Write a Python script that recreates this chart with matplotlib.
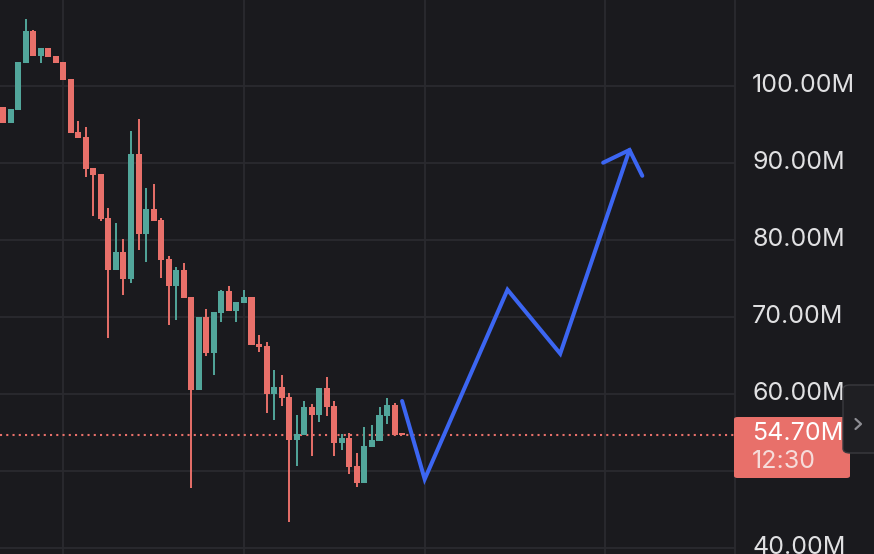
import numpy as np
import matplotlib
matplotlib.use("Agg")
import matplotlib.pyplot as plt
from matplotlib.patches import FancyBboxPatch

# candle data, values in millions
opens = [97.2, 95.2, 96.8, 103.0, 107.1, 103.9, 104.9, 103.9, 103.1, 100.9,
         94.0, 93.3, 89.3, 88.5, 82.8, 76.1, 78.4, 74.9, 91.1, 80.7,
         84.0, 82.6, 77.5, 74.0, 76.1, 72.6, 60.5, 70.0, 65.3, 70.5,
         73.3, 70.7, 71.8, 72.6, 66.5, 66.2, 60.0, 60.9, 59.6, 54.0,
         54.6, 58.3, 57.2, 60.7, 58.4, 53.6, 54.3, 50.6, 48.4, 53.1,
         53.9, 57.1, 58.5, 54.8]
highs = [97.2, 97.0, 103.1, 108.7, 107.2, 104.9, 104.9, 103.9, 103.1, 100.9,
         95.4, 94.6, 89.3, 88.5, 84.1, 82.2, 80.1, 94.1, 95.7, 86.7,
         87.2, 82.8, 77.9, 76.5, 77.0, 72.6, 70.0, 71.0, 70.6, 73.5,
         74.0, 71.9, 73.5, 72.6, 67.6, 66.7, 63.1, 62.4, 60.1, 57.2,
         59.0, 58.7, 60.7, 62.2, 59.0, 54.8, 54.9, 52.3, 55.7, 55.9,
         58.3, 59.4, 58.8, 54.8]
lows = [95.2, 95.2, 96.8, 103.0, 103.9, 103.0, 103.7, 103.0, 100.7, 93.9,
        93.2, 88.1, 83.1, 82.4, 67.2, 76.1, 72.8, 74.4, 78.7, 77.1,
        82.4, 75.0, 68.9, 69.6, 72.4, 47.8, 60.5, 64.9, 62.4, 69.3,
        70.7, 69.3, 71.8, 66.3, 65.4, 57.5, 56.6, 58.4, 43.3, 50.6,
        54.6, 51.9, 56.3, 57.1, 51.9, 52.7, 49.6, 47.9, 48.4, 53.1,
        53.9, 56.1, 54.6, 54.6]
closes = [95.2, 97.0, 103.1, 107.1, 103.9, 104.9, 103.7, 103.0, 100.7, 93.9,
          93.2, 89.2, 88.4, 82.7, 76.1, 78.4, 74.9, 91.1, 80.7, 84.0,
          82.4, 77.4, 74.0, 76.1, 72.4, 60.5, 70.0, 65.3, 70.6, 73.3,
          70.7, 71.9, 72.6, 66.3, 66.1, 60.0, 60.9, 59.4, 54.0, 54.8,
          58.3, 57.2, 60.7, 58.3, 53.6, 54.3, 50.5, 48.4, 53.2, 54.0,
          57.2, 58.5, 54.6, 54.7]

# drawn projection path (bar index, price)
path_x = [53, 56, 67, 74, 83.2]
path_y = [59.05, 48.9, 73.5, 65.2, 91.65]
head_x = [79.7, 83.2, 84.9]
head_y = [90.0, 91.65, 88.3]

last_price = 54.70
last_label = "54.70M"
last_time = "12:30"
price_ticks = [40, 50, 60, 70, 80, 90, 100]
time_grid = [8, 32, 56, 80]

bg = "#1a1a1e"
grid_c = "#2a2a2f"
up_c = "#52a69b"
down_c = "#e8706a"
blue = "#3c66f2"
txt_c = "#e0e0e2"

W, H = 874, 554
fig = plt.figure(figsize=(W / 100, H / 100), dpi=100, facecolor=bg)
plot_w = 735
ax = fig.add_axes([0, 0, plot_w / W, 1])
ax.set_facecolor(bg)

px_per_bar = 7.53
px_per_m = 7.7
ax.set_xlim(-3 / px_per_bar, (plot_w - 3) / px_per_bar)
ax.set_ylim(50 - (H - 470.7) / px_per_m, 50 + 470.7 / px_per_m)

for v in price_ticks:
    ax.axhline(v, color=grid_c, lw=1.3, zorder=0)
for i in time_grid:
    ax.axvline(i, color=grid_c, lw=1.3, zorder=0)

o = np.array(opens); c = np.array(closes)
hi = np.array(highs); lo = np.array(lows)
idx = np.arange(len(o))
cols = [up_c if cc >= oo else down_c for oo, cc in zip(o, c)]
bottoms = np.minimum(o, c)
heights = np.maximum(np.abs(c - o), 0.2)
ax.vlines(idx, lo, hi, colors=cols, lw=1.4, zorder=2)
ax.bar(idx, heights, bottom=bottoms, width=0.8, color=cols, zorder=3, linewidth=0)

ax.axhline(last_price, color=down_c, lw=1.5, ls=(0, (1, 2)), zorder=1)

ax.plot(path_x, path_y, color=blue, lw=2.9, solid_capstyle="round",
        solid_joinstyle="miter", zorder=4)
ax.plot(head_x, head_y, color=blue, lw=2.9, solid_capstyle="round",
        solid_joinstyle="miter", zorder=4)

for s in ax.spines.values():
    s.set_visible(False)
ax.set_xticks([]); ax.set_yticks([])

# price scale on the right
fig.add_artist(plt.Line2D([plot_w / W, plot_w / W], [0, 1], color=grid_c, lw=1.3))
font = "Inter"
fs = 18
for v in price_ticks:
    py = 470.7 - (v - 50) * px_per_m
    fig.text(752 / W, 1 - py / H, f"{v:.2f}M", color=txt_c, fontsize=fs,
             family=font, va="center", ha="left")

box = FancyBboxPatch((734 / W, 1 - 478 / H), (850 - 734) / W, (478 - 417) / H,
                     boxstyle="round,pad=0,rounding_size=0.004",
                     transform=fig.transFigure, fc=down_c, ec="none", zorder=5)
fig.add_artist(box)
fig.text(752 / W, 1 - 433 / H, last_label, color="white", fontsize=fs,
         family=font, va="center", ha="left", zorder=6)
fig.text(752 / W, 1 - 461 / H, last_time, color="#f6dcda", fontsize=fs,
         family=font, va="center", ha="left", zorder=6)

# scroll button sits on top of the label
btn = FancyBboxPatch((843 / W, 1 - 453 / H), 40 / W, 68 / H,
                     boxstyle="round,pad=0,rounding_size=0.008",
                     transform=fig.transFigure, fc="#1f1f23", ec="#3a3a3f",
                     lw=1, zorder=7)
fig.add_artist(btn)
fig.add_artist(plt.Line2D([855.5 / W, 861 / W, 855.5 / W],
                          [1 - 419 / H, 1 - 424 / H, 1 - 429 / H],
                          color="#8e8e94", lw=1.6, solid_capstyle="round",
                          zorder=8))

fig.savefig("out.png", dpi=100, facecolor=bg)
